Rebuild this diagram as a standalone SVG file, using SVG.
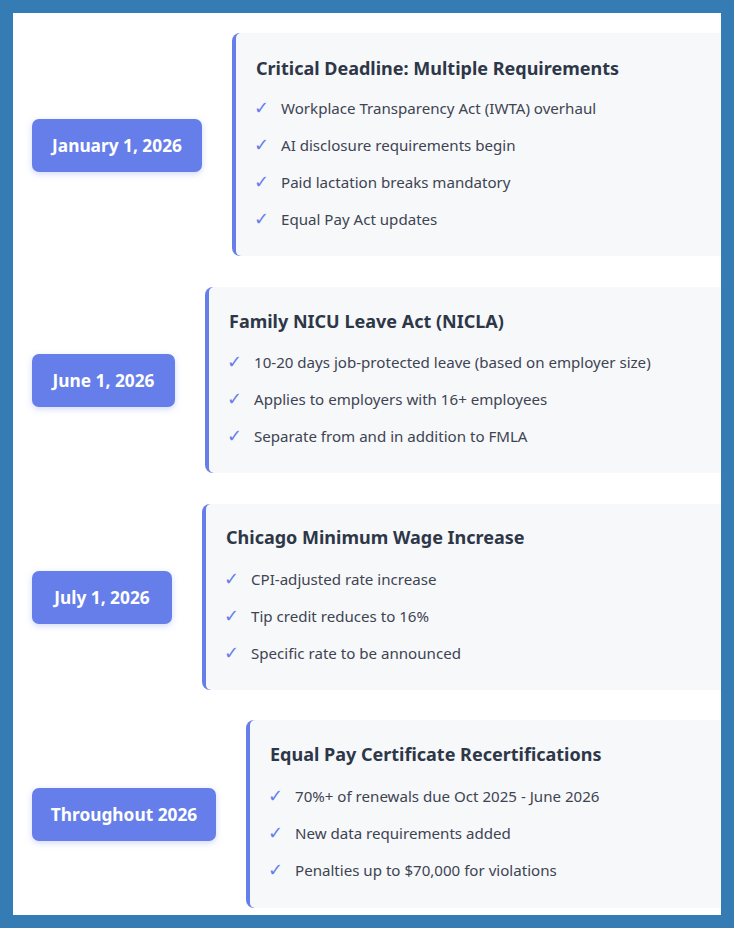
<svg xmlns="http://www.w3.org/2000/svg" width="734" height="928" viewBox="0 0 734 928">
<defs>
<filter id="sh" x="-20%" y="-30%" width="140%" height="170%">
<feDropShadow dx="0" dy="2" stdDeviation="3" flood-color="#667eea" flood-opacity="0.3"/>
</filter>
</defs>
<style>
.pill{fill:#667eea;filter:url(#sh)}
.pt{font-family:"Noto Sans","Open Sans",sans-serif;font-weight:700;font-size:17.3px;fill:#ffffff;text-anchor:middle}
.edge{fill:#667eea}
.bg{fill:#f7f8fa}
.tt{font-family:"Noto Sans","Open Sans",sans-serif;font-weight:700;font-size:18px;fill:#2d3748}
.it{font-family:"Noto Sans","Open Sans",sans-serif;font-size:15.1px;fill:#3d4452}
.ck{font-family:"DejaVu Sans",sans-serif;font-size:18px;fill:#667eea}
</style>
<rect x="0" y="0" width="734" height="928" fill="#ffffff"/>
<g id="connectors"></g>
<g id="date1">
<rect class="pill" x="32" y="119" width="170" height="53" rx="7"/>
<text class="pt" x="117" y="152">January 1, 2026</text>
</g>
<g id="card1">
<rect class="edge" x="232" y="33" width="500" height="223" rx="8"/>
<rect class="bg" x="236" y="33" width="496" height="223" rx="5"/>
<rect class="bg" x="244" y="33" width="488" height="223"/>
<text class="tt" x="256" y="75">Critical Deadline: Multiple Requirements</text>
<text class="ck" x="254" y="114">✓</text><text class="it" x="281" y="114">Workplace Transparency Act (IWTA) overhaul</text>
<text class="ck" x="254" y="151">✓</text><text class="it" x="281" y="151">AI disclosure requirements begin</text>
<text class="ck" x="254" y="188">✓</text><text class="it" x="281" y="188">Paid lactation breaks mandatory</text>
<text class="ck" x="254" y="225">✓</text><text class="it" x="281" y="225">Equal Pay Act updates</text>
</g>
<g id="date2">
<rect class="pill" x="32" y="354" width="143" height="53" rx="7"/>
<text class="pt" x="103.5" y="387">June 1, 2026</text>
</g>
<g id="card2">
<rect class="edge" x="205" y="287" width="530" height="186" rx="8"/>
<rect class="bg" x="209" y="287" width="526" height="186" rx="5"/>
<rect class="bg" x="217" y="287" width="518" height="186"/>
<text class="tt" x="229" y="328">Family NICU Leave Act (NICLA)</text>
<text class="ck" x="227" y="368">✓</text><text class="it" x="254" y="368">10-20 days job-protected leave (based on employer size)</text>
<text class="ck" x="227" y="405">✓</text><text class="it" x="254" y="405">Applies to employers with 16+ employees</text>
<text class="ck" x="227" y="442">✓</text><text class="it" x="254" y="442">Separate from and in addition to FMLA</text>
</g>
<g id="date3">
<rect class="pill" x="32" y="571" width="140" height="53" rx="7"/>
<text class="pt" x="102" y="604">July 1, 2026</text>
</g>
<g id="card3">
<rect class="edge" x="202" y="504" width="530" height="186" rx="8"/>
<rect class="bg" x="206" y="504" width="526" height="186" rx="5"/>
<rect class="bg" x="214" y="504" width="518" height="186"/>
<text class="tt" x="226" y="544">Chicago Minimum Wage Increase</text>
<text class="ck" x="224" y="585">✓</text><text class="it" x="251" y="585">CPI-adjusted rate increase</text>
<text class="ck" x="224" y="622">✓</text><text class="it" x="251" y="622">Tip credit reduces to 16%</text>
<text class="ck" x="224" y="659">✓</text><text class="it" x="251" y="659">Specific rate to be announced</text>
</g>
<g id="date4">
<rect class="pill" x="32" y="788" width="184" height="53" rx="7"/>
<text class="pt" x="124" y="821">Throughout 2026</text>
</g>
<g id="card4">
<rect class="edge" x="246" y="720" width="490" height="188" rx="8"/>
<rect class="bg" x="250" y="720" width="486" height="188" rx="5"/>
<rect class="bg" x="258" y="720" width="478" height="188"/>
<text class="tt" x="270" y="761">Equal Pay Certificate Recertifications</text>
<text class="ck" x="268" y="802">✓</text><text class="it" x="295" y="802">70%+ of renewals due Oct 2025 - June 2026</text>
<text class="ck" x="268" y="839">✓</text><text class="it" x="295" y="839">New data requirements added</text>
<text class="ck" x="268" y="876">✓</text><text class="it" x="295" y="876">Penalties up to $70,000 for violations</text>
</g>
<path d="M0 0H734V928H0Z M13 13V915H721V13Z" fill="#367cb4" fill-rule="evenodd"/>
</svg>
